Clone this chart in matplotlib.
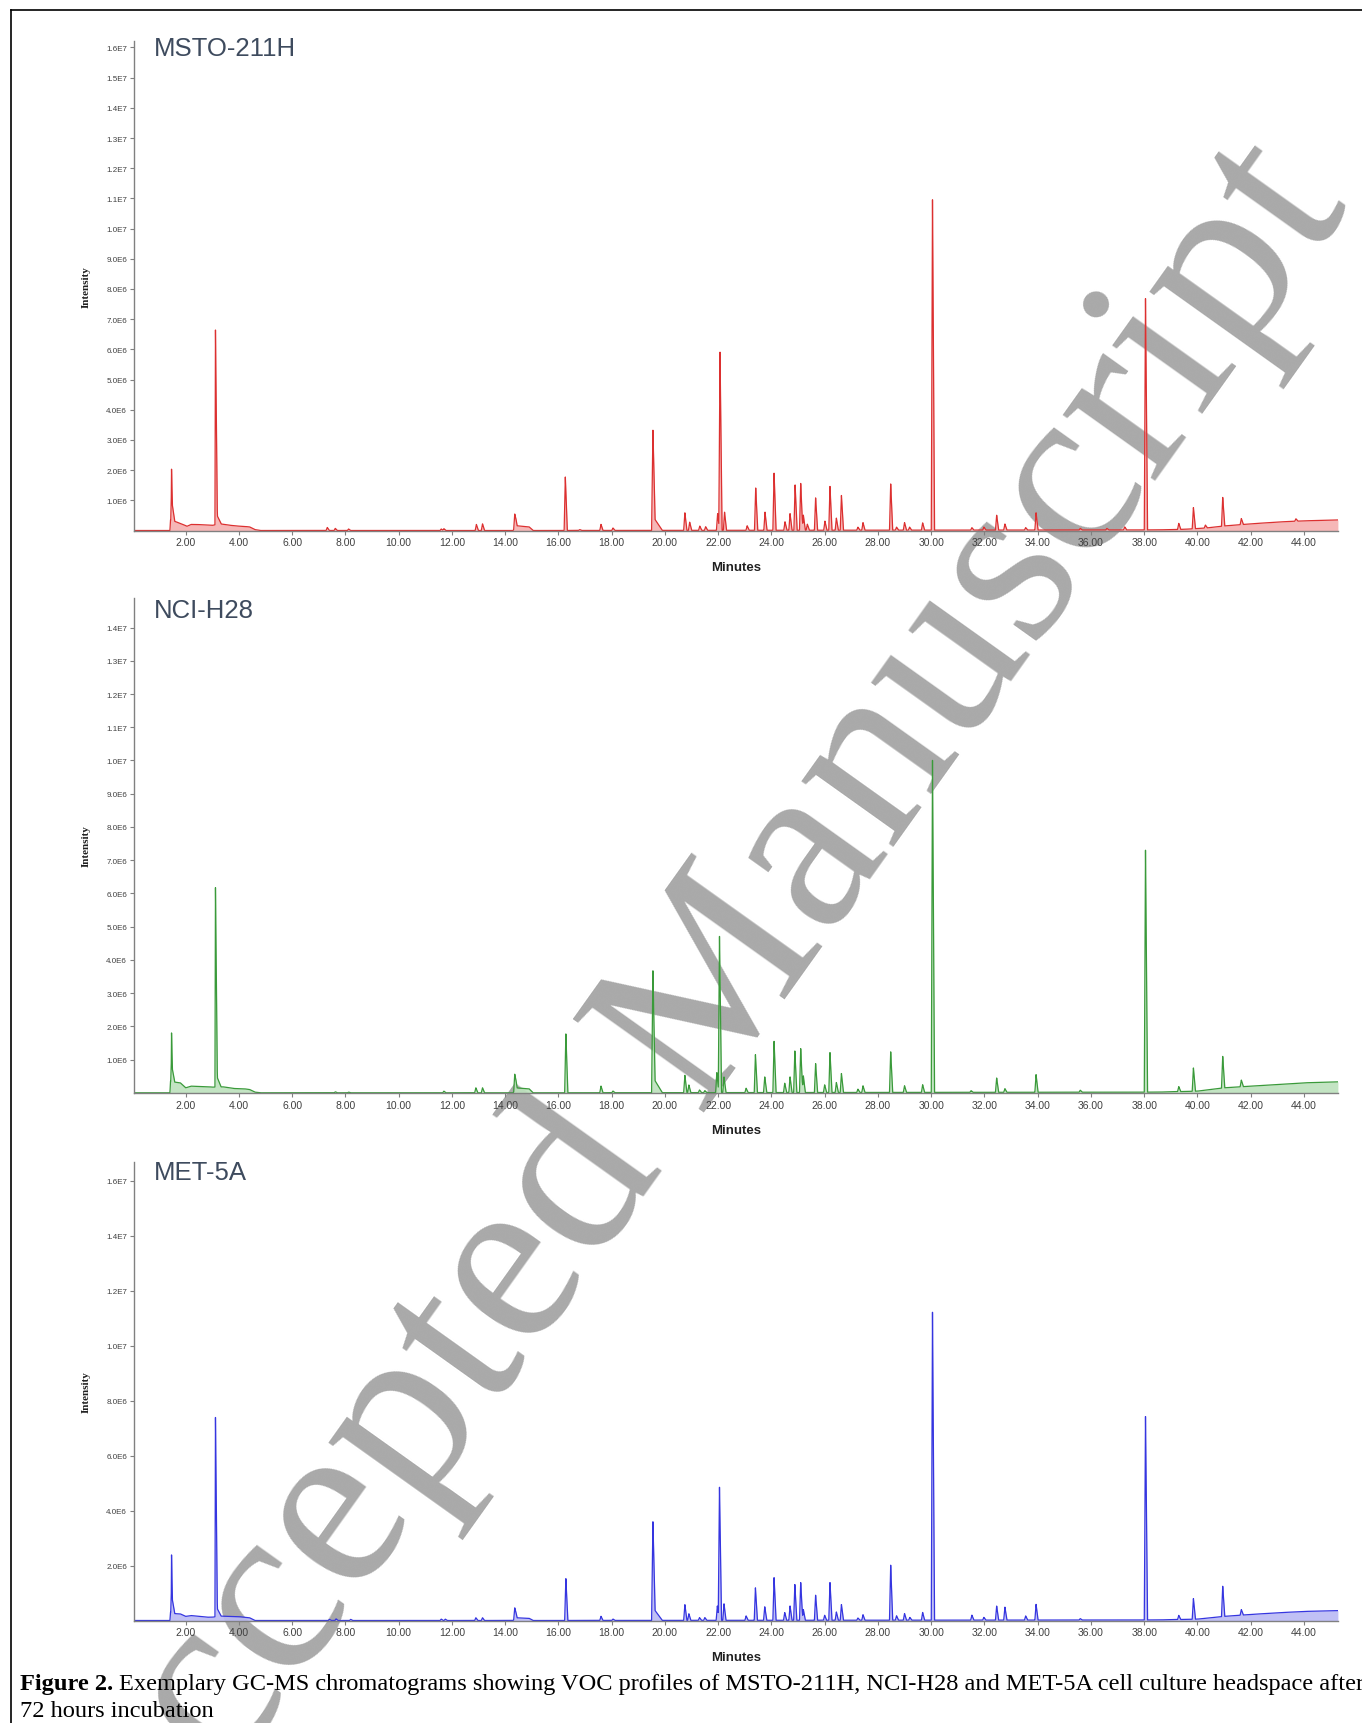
import matplotlib
matplotlib.use("Agg")
import matplotlib.pyplot as plt
import numpy as np
from matplotlib import font_manager
from matplotlib.lines import Line2D

# ---------------- data (intensity in units of 1E6, time in minutes) ----------------
xticks_min = [2, 4, 6, 8, 10, 12, 14, 16, 18, 20, 22, 24, 26, 28, 30, 32, 34, 36, 38, 40, 42, 44]
sample_names = ["MSTO-211H", "NCI-H28", "MET-5A"]

# baseline (time, value)
msto_base_t = [0.06, 1.41, 1.43, 1.6, 1.75, 1.9, 2.05, 2.2, 2.4, 3.0, 3.3, 3.6, 3.9, 4.1, 4.4, 4.6, 4.8,
               14.3, 14.4, 14.9, 15.05, 38.5, 39.5, 40.3, 41.0, 42.0, 43.0, 44.0, 45.3]
msto_base_v = [0, 0, 0.35, 0.3, 0.25, 0.2, 0.14, 0.2, 0.2, 0.17, 0.22, 0.18, 0.15, 0.14, 0.12, 0.03, 0,
               0, 0.16, 0.12, 0, 0.02, 0.04, 0.08, 0.15, 0.22, 0.28, 0.32, 0.35]
nci_base_t = [0.06, 1.41, 1.43, 1.6, 1.8, 2.0, 2.2, 2.9, 3.0, 3.4, 3.8, 4.2, 4.4, 4.6, 4.8,
              14.3, 14.4, 14.9, 15.05, 38.5, 40.0, 41.0, 42.0, 43.0, 44.0, 45.3]
nci_base_v = [0, 0, 0.35, 0.32, 0.3, 0.15, 0.2, 0.18, 0.17, 0.18, 0.13, 0.12, 0.1, 0.02, 0,
              0, 0.15, 0.12, 0, 0.02, 0.05, 0.15, 0.2, 0.25, 0.3, 0.33]
met_base_t = [0.06, 1.41, 1.43, 1.6, 1.8, 2.0, 2.2, 2.8, 3.0, 3.3, 4.0, 4.4, 4.6,
              14.3, 14.4, 14.9, 15.05, 38.5, 40.0, 41.0, 42.0, 43.0, 44.0, 45.3]
met_base_v = [0, 0, 0.3, 0.25, 0.24, 0.15, 0.18, 0.12, 0.12, 0.16, 0.14, 0.1, 0,
              0, 0.1, 0.08, 0, 0.02, 0.05, 0.15, 0.22, 0.28, 0.33, 0.36]

# peaks: retention time, height above baseline
msto_rt = [1.46, 1.47, 3.12, 3.18, 7.32, 7.62, 8.12, 11.6, 11.7, 12.92, 13.15, 14.36, 16.26, 16.8, 17.6, 18.05,
           19.55, 19.6, 20.75, 20.93, 21.31, 21.53, 21.98, 22.07, 22.24, 23.09, 23.41, 23.76, 24.10,
           24.51, 24.70, 24.89, 25.10, 25.2, 25.35, 25.66, 26.01, 26.20, 26.44, 26.63, 27.25, 27.44,
           28.48, 28.7, 29.0, 29.19, 29.68, 30.05, 31.53, 31.98, 32.46, 32.77, 33.55, 33.94,
           35.6, 36.6, 37.27, 38.05, 39.3, 39.85, 40.3, 40.95, 41.65, 43.7]
msto_h = [0.75, 1.0, 6.45, 0.3, 0.1, 0.07, 0.05, 0.05, 0.06, 0.2, 0.22, 0.45, 1.77, 0.03, 0.2, 0.08,
          3.25, 0.4, 0.58, 0.27, 0.14, 0.12, 0.55, 5.9, 0.6, 0.15, 1.40, 0.6, 1.89,
          0.28, 0.55, 1.5, 1.55, 0.5, 0.2, 1.07, 0.3, 1.45, 0.4, 1.15, 0.1, 0.25,
          1.53, 0.1, 0.25, 0.1, 0.24, 10.94, 0.08, 0.1, 0.49, 0.2, 0.08, 0.57,
          0.05, 0.05, 0.1, 7.66, 0.2, 0.7, 0.1, 0.95, 0.2, 0.08]

nci_rt = [1.46, 1.47, 3.12, 3.18, 7.62, 8.12, 11.7, 12.9, 13.15, 14.36, 16.28, 17.6, 18.05,
          19.55, 19.6, 20.75, 20.9, 21.3, 21.5, 21.95, 22.05, 22.22, 23.05, 23.4, 23.75, 24.1,
          24.5, 24.7, 24.88, 25.1, 25.2, 25.66, 26.0, 26.2, 26.44, 26.63, 27.25, 27.44, 28.48,
          29.0, 29.68, 30.05, 31.5, 32.46, 32.77, 33.94, 35.6, 38.05, 39.3, 39.85, 40.95, 41.65]
nci_h = [0.55, 0.95, 6.0, 0.3, 0.03, 0.02, 0.05, 0.15, 0.15, 0.47, 1.77, 0.2, 0.05,
         3.6, 0.4, 0.52, 0.23, 0.08, 0.06, 0.6, 4.7, 0.47, 0.13, 1.14, 0.47, 1.54,
         0.28, 0.47, 1.25, 1.32, 0.5, 0.87, 0.23, 1.2, 0.3, 0.57, 0.1, 0.2, 1.22,
         0.2, 0.23, 9.99, 0.05, 0.43, 0.11, 0.53, 0.06, 7.28, 0.15, 0.7, 0.95, 0.2]

met_rt = [1.46, 1.47, 3.12, 3.18, 7.4, 7.65, 8.2, 11.6, 11.75, 12.9, 13.15, 14.36, 16.28, 17.6, 18.05,
          19.55, 19.6, 20.75, 20.9, 21.3, 21.5, 21.97, 22.05, 22.22, 23.05, 23.4, 23.75, 24.1,
          24.5, 24.7, 24.88, 25.1, 25.2, 25.66, 26.0, 26.2, 26.44, 26.63, 27.25, 27.44, 28.48,
          28.7, 29.0, 29.2, 29.68, 30.05, 31.53, 31.98, 32.46, 32.77, 33.55, 33.94, 35.6,
          38.05, 39.3, 39.85, 40.95, 41.65]
met_h = [0.7, 1.45, 7.25, 0.3, 0.04, 0.06, 0.04, 0.05, 0.05, 0.1, 0.1, 0.4, 1.52, 0.15, 0.05,
         3.52, 0.4, 0.57, 0.24, 0.1, 0.1, 0.52, 4.84, 0.6, 0.16, 1.18, 0.49, 1.55,
         0.28, 0.52, 1.3, 1.37, 0.39, 0.91, 0.18, 1.37, 0.3, 0.57, 0.08, 0.2, 2.0,
         0.16, 0.24, 0.1, 0.28, 11.2, 0.18, 0.1, 0.51, 0.47, 0.15, 0.57, 0.05,
         7.4, 0.15, 0.75, 1.1, 0.2]

# peaks with a broad / tailing shape: rt -> (left width, right width) in minutes
broad_shapes = {1.46: (0.02, 0.13), 1.47: (0.01, 0.03), 3.12: (0.02, 0.07), 3.18: (0.03, 0.15),
                14.36: (0.04, 0.09), 19.55: (0.05, 0.08), 19.6: (0.06, 0.3)}

# ---------------- figure ----------------
W, H = 1362, 1724
fig = plt.figure(figsize=(W / 100, H / 100), dpi=100)
fig.patch.set_facecolor("white")

names = {f.name for f in font_manager.fontManager.ttflist}
narrow = "Liberation Sans Narrow" if "Liberation Sans Narrow" in names else "Liberation Sans"

panels = [
    dict(name=sample_names[0], bt=msto_base_t, bv=msto_base_v, rt=msto_rt, h=msto_h,
         top=41.8, bottom=531.5, ymax=16.22, yticks=list(range(1, 17)),
         line="#dc3030", fill="#f6b0b0", title_y=49.2),
    dict(name=sample_names[1], bt=nci_base_t, bv=nci_base_v, rt=nci_rt, h=nci_h,
         top=599.0, bottom=1093.8, ymax=14.89, yticks=list(range(1, 15)),
         line="#3a9a3a", fill="#bde2bd", title_y=611.5),
    dict(name=sample_names[2], bt=met_base_t, bv=met_base_v, rt=met_rt, h=met_h,
         top=1163.0, bottom=1621.5, ymax=16.68, yticks=list(range(2, 17, 2)),
         line="#3535e0", fill="#babaf4", title_y=1172.8),
]

left_px, right_px = 134, 1338
xmin, xmax = 0.06, 45.28


def ylab(v):
    e = int(np.floor(np.log10(v)))
    return f"{v / 10 ** e:.1f}E{e}"


for p in panels:
    ax = fig.add_axes([left_px / W, 1 - p["bottom"] / H, (right_px - left_px) / W,
                       (p["bottom"] - p["top"]) / H])
    ax.set_facecolor("none")
    grid = np.arange(xmin, xmax, 0.004)
    t = np.unique(np.concatenate([grid, np.array(p["rt"])]))
    y = np.interp(t, p["bt"], p["bv"])
    for rt, h in zip(p["rt"], p["h"]):
        wl, wr = broad_shapes.get(rt, (0.045, 0.075))
        y = y + np.interp(t, [rt - wl, rt, rt + wr], [0, h, 0], left=0, right=0)
    y = y * 1e6
    ax.fill_between(t, 0, y, color=p["fill"], lw=0, alpha=0.9)
    ax.plot(t, y, color=p["line"], lw=0.9)
    ax.set_xlim(xmin, xmax)
    ax.set_ylim(0, p["ymax"] * 1e6)
    for s in ("top", "right"):
        ax.spines[s].set_visible(False)
    for s in ("left", "bottom"):
        ax.spines[s].set_color("#808080")
        ax.spines[s].set_linewidth(1.0)
    ax.set_xticks(xticks_min)
    ax.set_xticklabels([f"{v:.2f}" for v in xticks_min], fontsize=7.5, family=narrow, color="#404040")
    yt = [v * 1e6 for v in p["yticks"]]
    ax.set_yticks(yt)
    ax.set_yticklabels([ylab(v) for v in yt], fontsize=5.8, family=narrow, color="#404040")
    ax.tick_params(axis="both", direction="out", length=3, width=0.8, color="#808080", pad=2)
    ax.set_xlabel("Minutes", fontsize=9.5, family=narrow, fontweight="bold", color="#202020", labelpad=10)
    ax.set_ylabel("Intensity", fontsize=8, family="Liberation Serif", fontweight="bold", color="#202020",
                  labelpad=11)
    fig.text(154 / W, 1 - p["title_y"] / H, p["name"], fontsize=18.5, family="Liberation Sans",
             color="#3e4b5e", ha="left", va="center")

# caption
cap_size = 17.6
r = fig.canvas.get_renderer()
t1 = fig.text(20 / W, 1 - 1690 / H, "Figure 2.", fontsize=cap_size, family="Liberation Serif",
              fontweight="bold", ha="left", va="baseline", color="black")
bb = t1.get_window_extent(renderer=r)
fig.text((bb.x1 + 6) / W, 1 - 1690 / H,
         "Exemplary GC-MS chromatograms showing VOC profiles of MSTO-211H, NCI-H28 and MET-5A cell culture headspace after",
         fontsize=cap_size, family="Liberation Serif", ha="left", va="baseline", color="black")
fig.text(20 / W, 1 - 1717 / H, "72 hours incubation", fontsize=cap_size, family="Liberation Serif",
         ha="left", va="baseline", color="black")

# watermark
fig.text(690 / W, 1 - 1030 / H, "Accepted Manuscript", rotation=54.5, rotation_mode="anchor",
         fontsize=177, family="Liberation Serif", color="#a9a9a9", ha="center", va="center", zorder=-5)

# border
fig.add_artist(Line2D([11 / W, 11 / W], [0, 1 - 11 / H], transform=fig.transFigure, color="black", lw=1.2))
fig.add_artist(Line2D([11 / W, 1], [1 - 11 / H, 1 - 11 / H], transform=fig.transFigure, color="black", lw=1.2))

fig.savefig("out.png", dpi=100)
